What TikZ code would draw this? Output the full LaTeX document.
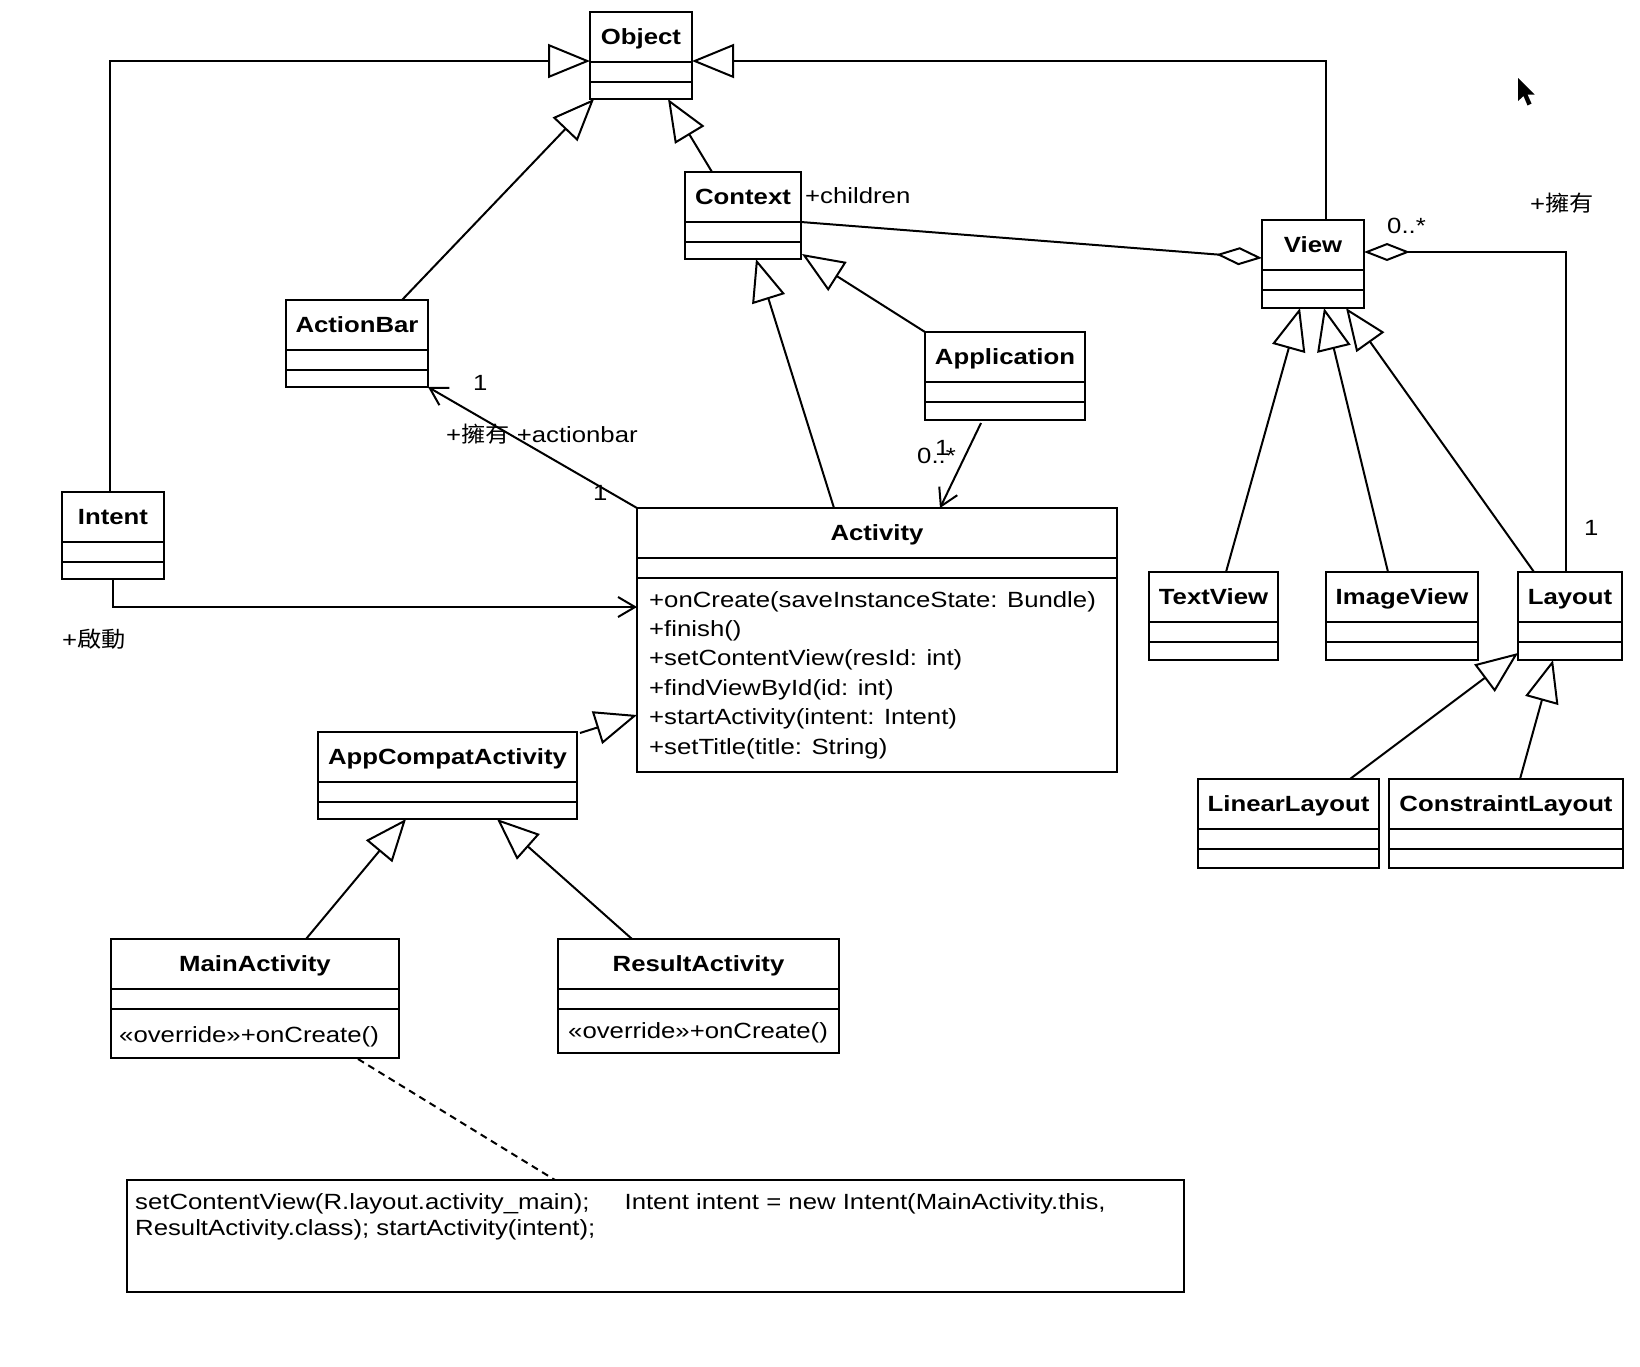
\documentclass[tikz,border=0pt]{standalone}
\usepackage{fontspec}
\setmainfont{Liberation Sans}[FakeStretch=1.17]
\newfontfamily\cjk{Noto Sans CJK TC}[FakeStretch=1.1]
\usetikzlibrary{arrows.meta,calc}

\tikzset{
  cls/.style={draw, line width=2.2pt, inner sep=0pt, outer sep=0pt},
  box/.style={line width=2.2pt},
  ttl/.style={font=\fontsize{22}{26}\selectfont\bfseries, inner sep=0pt},
  txt/.style={font=\fontsize{22}{26}\selectfont, inner sep=0pt},
  edge/.style={line width=2pt},
  gen/.style={edge, -{Triangle[open, length=42pt, width=34pt]}},
  agg/.style={edge, -{Diamond[open, length=46pt, width=18pt]}},
  assoc/.style={edge, -{Straight Barb[length=17pt, width=20pt]}},
  dep/.style={edge, dash pattern=on 7pt off 5pt},
}

% name, x, y, w, h, title
\newcommand{\umlclass}[6]{%
  \node[cls, minimum width=#4pt, minimum height=#5pt, anchor=north west] (#1) at (#2,#3) {};
  \draw[box] ($(#1.north west)+(0,50)$) -- ($(#1.north east)+(0,50)$);
  \draw[box] ($(#1.north west)+(0,70)$) -- ($(#1.north east)+(0,70)$);
  \node[ttl, anchor=base] (#1-t) at ($(#1.north)+(0,32.5)$) {#6};
}

\begin{document}
\begin{tikzpicture}[x=1pt, y=-1pt]
\fill[white] (0,0) rectangle (1640,1366);
\useasboundingbox (0,0) rectangle (1640,1366);

% classes
\umlclass{Object}{590}{12}{102}{87}{Object}
\umlclass{ActionBar}{286}{300}{142}{87}{ActionBar}
\umlclass{Context}{685}{172}{116}{87}{Context}
\umlclass{Application}{925}{332}{160}{88}{Application}
\umlclass{View}{1262}{220}{102}{88}{View}
\umlclass{Intent}{62}{492}{102}{87}{Intent}
\umlclass{Activity}{637}{508}{480}{264}{Activity}
\umlclass{AppCompatActivity}{318}{732}{259}{87}{AppCompatActivity}
\umlclass{MainActivity}{111}{939}{288}{119}{MainActivity}
\umlclass{ResultActivity}{558}{939}{281}{114}{ResultActivity}
\umlclass{TextView}{1149}{572}{129}{88}{TextView}
\umlclass{ImageView}{1326}{572}{152}{88}{ImageView}
\umlclass{Layout}{1518}{572}{104}{88}{Layout}
\umlclass{LinearLayout}{1198}{779}{181}{89}{LinearLayout}
\umlclass{ConstraintLayout}{1389}{779}{234}{89}{ConstraintLayout}

% Activity methods
\foreach \t [count=\i] in {{+onCreate(saveInstanceState: Bundle)},{+finish()},{+setContentView(resId: int)},{+findViewById(id: int)},{+startActivity(intent: Intent)},{+setTitle(title: String)}}
  \node[txt, anchor=base west] (m\i) at ($(Activity.north west)+(12,69.6+29.4*\i)$) {\t};

\node[txt, anchor=base west] (mainop) at ($(MainActivity.north west)+(8,103)$) {«override»+onCreate()};
\node[txt, anchor=base west] (resop) at ($(ResultActivity.north west)+(10,99)$) {«override»+onCreate()};

% note
\node[cls, minimum width=1057pt, minimum height=112pt, anchor=north west] (note) at (127,1180) {};
\node[txt, anchor=base west] (n1) at ($(note.north west)+(8,29)$) {setContentView(R.layout.activity\_main);\hspace{35pt}Intent intent = new Intent(MainActivity.this,};
\node[txt, anchor=base west] (n2) at ($(note.north west)+(8,55)$) {ResultActivity.class); startActivity(intent);};

% generalizations
\coordinate (objL) at ($(Object.north west)+(0,49)$);
\coordinate (objR) at ($(Object.north east)+(0,49)$);
\draw[gen] ($(Intent.north)+(-3,0)$) |- (objL);
\draw[gen] ($(View.north)+(13,0)$) |- (objR);
\draw[gen] ($(ActionBar.north east)+(-26,0)$) -- ($(Object.south west)+(4,0)$);
\draw[gen] ($(Context.north west)+(27,0)$) -- ($(Object.south east)+(-24,0)$);
\draw[gen] (Application.north west) -- ($(Context.south east)+(1,-5)$);
\draw[gen] ($(Activity.north west)+(197,0)$) -- ($(Context.south west)+(71,0)$);
\draw[gen] ($(AppCompatActivity.north east)+(3,1)$) -- ($(Activity.north west)+(0,207)$);
\draw[gen] ($(MainActivity.north west)+(195,0)$) -- ($(AppCompatActivity.south west)+(88,0)$);
\draw[gen] ($(ResultActivity.north west)+(74,0)$) -- ($(AppCompatActivity.south west)+(179,0)$);
\draw[gen] ($(TextView.north west)+(77,0)$) -- ($(View.south west)+(38,0)$);
\draw[gen] ($(ImageView.north west)+(62,0)$) -- ($(View.south west)+(62,0)$);
\draw[gen] ($(Layout.north west)+(16,0)$) -- ($(View.south west)+(84,0)$);
\draw[gen] ($(LinearLayout.north west)+(152,0)$) -- ($(Layout.south west)+(0,-7)$);
\draw[gen] ($(ConstraintLayout.north west)+(131,0)$) -- ($(Layout.south west)+(35,0)$);

% associations
\draw[assoc] ($(Application.south west)+(56,3)$) -- ($(Activity.north west)+(303,0)$);
\draw[assoc] (Activity.north west) -- (ActionBar.south east);
\draw[assoc] (Intent.south) |- ($(Activity.north west)+(0,99)$);
\draw[agg] ($(Context.north east)+(0,50)$) -- ($(View.north west)+(0,38)$);
\draw[agg] ($(Layout.north)+(-4,0)$) |- ($(View.north east)+(0,32)$);
\draw[dep] ($(MainActivity.south west)+(247,1)$) -- ($(note.north west)+(428,0)$);

% labels
\node[txt, anchor=base west] (lchildren) at (805,203) {+children};
\node[txt, anchor=base west] (lviewmult) at (1387,233) {0..*};
\node[txt, anchor=base west] (lown2) at (1530,211) {+{\cjk 擁有}};
\node[txt, anchor=base west] (llay1) at (1584,535) {1};
\node[txt, anchor=base west] (lab1) at (473,390) {1};
\node[txt, anchor=base west] (labrole) at (446,442) {+{\cjk 擁有} +actionbar};
\node[txt, anchor=base west] (lact1) at (593,500) {1};
\node[txt, anchor=base west] (lapp0) at (917,463) {0..*};
\node[txt, anchor=base west] (lapp1) at (935,455) {1};
\node[txt, anchor=base west] (lstart) at (62,647) {+{\cjk 啟動}};

% mouse cursor
\fill[black] (1518,78) -- (1518,101) -- (1523.5,96) -- (1527.5,105.5) -- (1531.5,103.5) -- (1527.5,94.5) -- (1534.5,94.5) -- cycle;
\end{tikzpicture}
\end{document}
